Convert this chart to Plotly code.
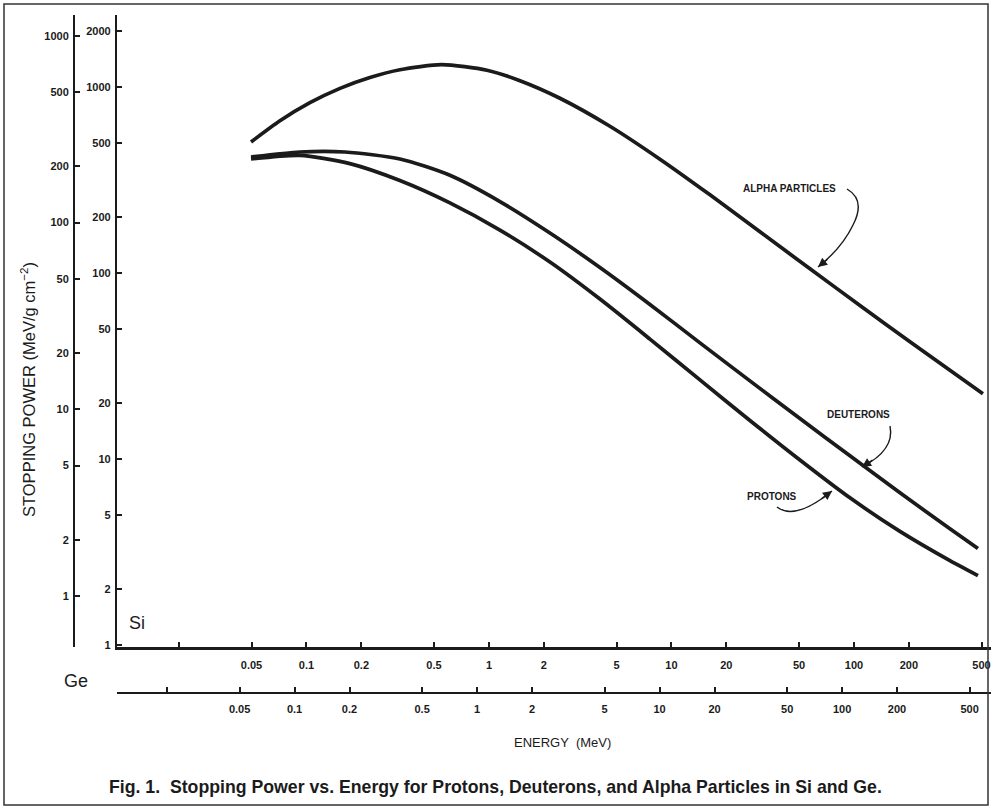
import plotly.graph_objects as go

# ---------------- data (Si scale: energy in MeV, stopping power in MeV/g cm^-2) ----------------
alpha_E = [0.0497, 0.0716, 0.1045, 0.1527, 0.2228, 0.3254, 0.5526, 0.9751, 1.479, 2.449, 4.603,
           8.650, 16.26, 30.54, 57.41, 107.9, 202.7, 509.0]
alpha_S = [506, 658, 823, 983, 1124, 1238, 1318, 1230, 1081, 870, 615,
           409, 263, 166.5, 105.3, 66.9, 42.7, 22.4]

deut_E = [0.0497, 0.0921, 0.1626, 0.325, 0.611, 1.149, 2.159, 4.057, 7.624, 14.33, 26.92, 50.59, 95.08, 178.7, 335.7, 478.1]
deut_S = [420, 447, 447, 410, 335, 242, 164, 107, 67.7, 42.1, 26.3, 16.5, 10.4, 6.58, 4.22, 3.30]

prot_E = [0.0497, 0.0921, 0.173, 0.325, 0.611, 1.149, 2.159, 4.057, 7.624, 14.33, 26.92, 50.59, 95.08, 178.7, 335.7, 478.1]
prot_S = [410, 429, 387, 314, 238, 170, 114.5, 72.4, 44.1, 26.6, 16.1, 9.87, 6.18, 4.08, 2.84, 2.36]

x_tickvals = [0.02, 0.05, 0.1, 0.2, 0.5, 1, 2, 5, 10, 20, 50, 100, 200, 500]
x_ticktext = ["", "0.05", "0.1", "0.2", "0.5", "1", "2", "5", "10", "20", "50", "100", "200", "500"]
si_y_tickvals = [1, 2, 5, 10, 20, 50, 100, 200, 500, 1000, 2000]
ge_y_tickvals = [1, 2, 5, 10, 20, 50, 100, 200, 500, 1000]

# ---------------- geometry helpers (figure pixels -> paper) ----------------
W, H = 991, 808
def px(x):
    return x / W
def py(y):
    return 1 - y / H

INK = "#1b1b1b"
tickfont = dict(family="Liberation Sans", size=11, color=INK, weight="bold")

fig = go.Figure()
for E, S in [(alpha_E, alpha_S), (deut_E, deut_S), (prot_E, prot_S)]:
    fig.add_trace(go.Scatter(x=E, y=S, mode="lines",
                             line=dict(color=INK, width=3.7, shape="spline", smoothing=0.7),
                             showlegend=False, hoverinfo="skip"))
# invisible trace bound to the Ge axes so they get drawn
fig.add_trace(go.Scatter(x=[1], y=[1], xaxis="x2", yaxis="y2", mode="markers",
                         marker=dict(opacity=0), showlegend=False, hoverinfo="skip"))

axis_common = dict(type="log", showgrid=False, zeroline=False, showline=True,
                   linecolor=INK, ticks="inside", tickcolor=INK, tickwidth=1.6,
                   ticklen=5, tickfont=tickfont, automargin=False)

fig.update_layout(
    width=W, height=H,
    margin=dict(l=0, r=0, t=0, b=0),
    paper_bgcolor="white", plot_bgcolor="white",
    xaxis=dict(axis_common, domain=[px(117), 1], range=[-2.038, 2.751], anchor="y",
               linewidth=2.6, tickvals=x_tickvals, ticktext=x_ticktext, ticklabelstandoff=6),
    yaxis=dict(axis_common, domain=[py(647), py(15)], range=[-0.011, 3.387], anchor="x",
               linewidth=2.2, tickvals=si_y_tickvals, ticktext=[str(v) for v in si_y_tickvals],
               ticklabelstandoff=2),
    xaxis2=dict(axis_common, overlaying="x", anchor="free", position=py(693), side="bottom",
                range=[-1.973, 2.816], linewidth=2.2, tickvals=x_tickvals, ticktext=x_ticktext,
                ticklabelstandoff=6),
    yaxis2=dict(axis_common, overlaying="y", anchor="free", position=px(74), side="left",
                range=[-0.273, 3.112], linewidth=2.0, tickvals=ge_y_tickvals,
                ticktext=[str(v) for v in ge_y_tickvals], ticklabelstandoff=2),
)

label_font = dict(family="Liberation Sans", size=10, color=INK, weight="bold")
ann = [
    dict(x=px(789), y=py(188), text="ALPHA PARTICLES", font=label_font),
    dict(x=px(858), y=py(414), text="DEUTERONS", font=label_font),
    dict(x=px(772), y=py(496), text="PROTONS", font=label_font),
    dict(x=px(137), y=py(623), text="Si", font=dict(family="Liberation Sans", size=18, color=INK)),
    dict(x=px(76), y=py(681), text="Ge", font=dict(family="Liberation Sans", size=18, color=INK)),
    dict(x=px(28), y=py(390), text="STOPPING POWER (MeV/g cm<sup>−2</sup>)", textangle=-90,
         font=dict(family="Liberation Sans", size=16.5, color=INK)),
    dict(x=px(562), y=py(742), text="ENERGY  (MeV)",
         font=dict(family="Liberation Sans", size=13, color=INK)),
    dict(x=px(495), y=py(787),
         text="Fig. 1.  Stopping Power vs. Energy for Protons, Deuterons, and Alpha Particles in Si and Ge.",
         font=dict(family="Liberation Sans", size=17.7, color=INK, weight="bold")),
]
for a in ann:
    fig.add_annotation(xref="paper", yref="paper", showarrow=False, xanchor="center",
                       yanchor="middle", **a)

# arrow heads (tip positions in paper coords)
for tip, off in [((818, 267), (11, -9)), ((862, 467), (12, -8)), ((832, 491), (-12, 9))]:
    fig.add_annotation(xref="paper", yref="paper", x=px(tip[0]), y=py(tip[1]),
                       ax=off[0], ay=off[1], text="", showarrow=True, arrowhead=2,
                       arrowsize=1.3, arrowwidth=1.4, arrowcolor=INK)

def path(pts):
    (x0, y0), rest = pts[0], pts[1:]
    s = f"M {px(x0)},{py(y0)}"
    for i in range(0, len(rest), 2):
        (cx, cy), (ex, ey) = rest[i], rest[i + 1]
        s += f" Q {px(cx)},{py(cy)} {px(ex)},{py(ey)}"
    return s

for pts in [
    [(847, 189), (866, 200), (853, 225), (842, 248), (818, 267)],
    [(890, 426), (895, 450), (862, 467)],
    [(777, 507), (795, 521), (832, 491)],
]:
    fig.add_shape(type="path", xref="paper", yref="paper", path=path(pts),
                  line=dict(color=INK, width=1.4))

# outer frame
fig.add_shape(type="rect", xref="paper", yref="paper", x0=px(4), x1=px(988), y0=py(805), y1=py(4),
              line=dict(color="#333", width=1.5))

fig.write_html("out.html")
